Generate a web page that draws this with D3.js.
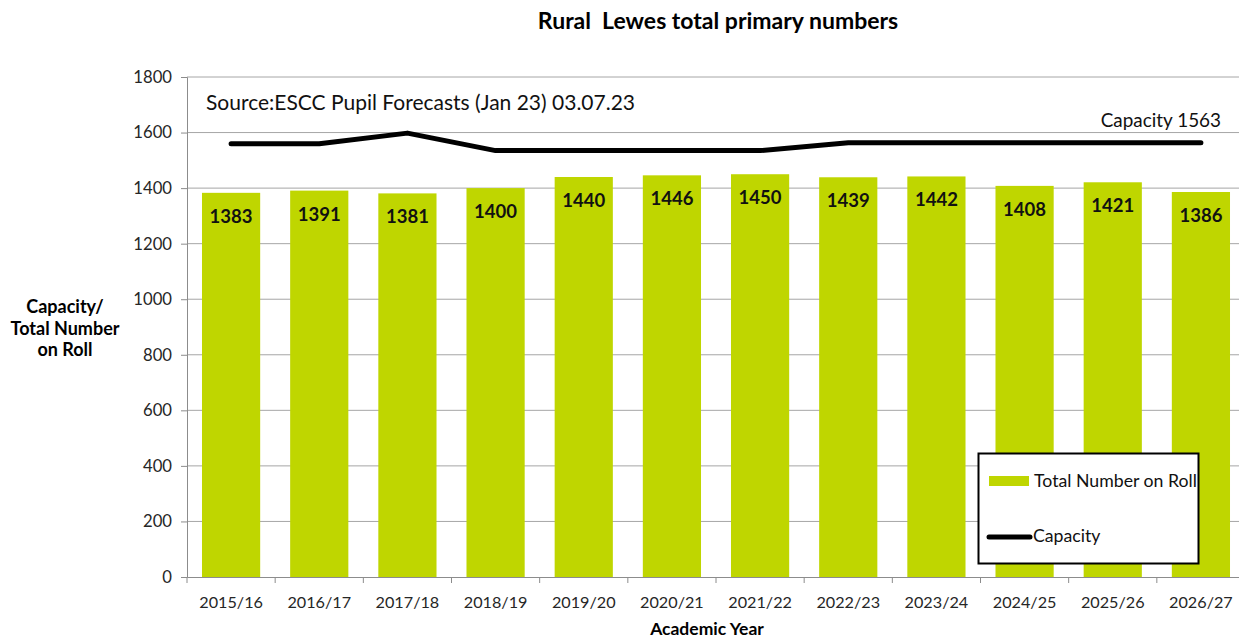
<!DOCTYPE html>
<html><head><meta charset="utf-8">
<script src="https://cdn.jsdelivr.net/npm/d3@7"></script>
<style>body{margin:0;background:#fff;} svg{display:block;font-family:Lato, "Open Sans", sans-serif;}</style>
</head><body>
<svg id="chart" width="1239" height="639"></svg>
<script>
const years = ["2015/16","2016/17","2017/18","2018/19","2019/20","2020/21","2021/22","2022/23","2023/24","2024/25","2025/26","2026/27"];
const roll = [1383,1391,1381,1400,1440,1446,1450,1439,1442,1408,1421,1386];
const capacity = [1560,1560,1598,1535,1535,1535,1535,1563,1563,1563,1563,1563];
const yTicks = [0,200,400,600,800,1000,1200,1400,1600,1800];

(function(){
const svg = d3.select("#chart");
const pL = 187, pR = 1245, pT = 77, pB = 577;
const x = d3.scaleBand().domain(years).range([pL, pR]).paddingInner(0.34).paddingOuter(0.17);
const y = d3.scaleLinear().domain([0,1800]).range([pB, pT]);

// gridlines
svg.append("g").selectAll("line").data(yTicks.filter(d=>d>0)).join("line")
  .attr("x1", pL).attr("x2", pR).attr("y1", d=>y(d)).attr("y2", d=>y(d))
  .attr("stroke", "#a6a6a6").attr("stroke-width", 1);

// bars
svg.append("g").selectAll("rect").data(years).join("rect")
  .attr("x", d=>x(d)).attr("width", x.bandwidth())
  .attr("y", (d,i)=>y(roll[i])).attr("height", (d,i)=>pB - y(roll[i]))
  .attr("fill", "#bfd600");

// y axis
const yAxis = svg.append("g").attr("transform", `translate(${pL},0)`)
  .call(d3.axisLeft(y).tickValues(yTicks).tickSize(6).tickPadding(9).tickFormat(d3.format("d")));
yAxis.select(".domain").attr("stroke", "#8c8c8c");
yAxis.selectAll(".tick line").attr("stroke", "#8c8c8c");
yAxis.selectAll(".tick text").attr("font-size", 16.7).attr("fill", "#262626").attr("font-family", "Lato");

// x axis
const step = x.step();
const xAxis = svg.append("g").attr("transform", `translate(0,${pB})`)
  .call(d3.axisBottom(x).tickSize(0).tickPadding(19));
xAxis.select(".domain").attr("stroke", "#8c8c8c");
xAxis.selectAll(".tick text").attr("font-size", 16.2).attr("fill", "#262626").attr("font-family", "Lato");
svg.append("g").selectAll("line").data(d3.range(years.length+1)).join("line")
  .attr("x1", i=>pL + i*step).attr("x2", i=>pL + i*step)
  .attr("y1", pB).attr("y2", pB+6).attr("stroke", "#8c8c8c");

// capacity line
const line = d3.line().x((d,i)=>x(years[i]) + x.bandwidth()/2).y(d=>y(d));
svg.append("path").datum(capacity).attr("d", line)
  .attr("fill", "none").attr("stroke", "#000").attr("stroke-width", 5)
  .attr("stroke-linecap", "round").attr("stroke-linejoin", "round");

// data labels
svg.append("g").selectAll("text").data(years).join("text")
  .attr("x", d=>x(d) + x.bandwidth()/2).attr("y", (d,i)=>y(roll[i]) + 30)
  .attr("text-anchor", "middle").attr("font-size", 18.5).attr("font-weight", "bold").attr("fill", "#111")
  .text((d,i)=>roll[i]);

// title
svg.append("text").attr("x", 718).attr("y", 29).attr("text-anchor", "middle")
  .attr("font-size", 23).attr("font-weight", "bold").attr("fill", "#000")
  .style("white-space", "pre")
  .text("Rural  Lewes total primary numbers");

// source
svg.append("text").attr("x", 206).attr("y", 110).attr("font-size", 21).attr("fill", "#111")
  .text("Source:ESCC Pupil Forecasts (Jan 23) 03.07.23");

// capacity annotation
svg.append("text").attr("x", 1221).attr("y", 127).attr("text-anchor", "end").attr("font-size", 18.9).attr("fill", "#111")
  .text("Capacity " + capacity[capacity.length-1]);

// y-axis title
const yt = svg.append("text").attr("text-anchor", "middle").attr("font-size", 18).attr("font-weight", "bold").attr("fill", "#000");
["Capacity/","Total Number","on Roll"].forEach((t,i)=>{
  yt.append("tspan").attr("x", 65).attr("y", 313 + i*21.5).text(t);
});

// x-axis title
svg.append("text").attr("x", 707).attr("y", 635).attr("text-anchor", "middle")
  .attr("font-size", 17.5).attr("font-weight", "bold").attr("fill", "#000").text("Academic Year");

// legend
const lg = svg.append("g");
lg.append("rect").attr("x", 978.5).attr("y", 453.5).attr("width", 220).attr("height", 110)
  .attr("fill", "#fff").attr("stroke", "#000").attr("stroke-width", 2);
lg.append("rect").attr("x", 989).attr("y", 476).attr("width", 40).attr("height", 10).attr("fill", "#bfd600");
lg.append("text").attr("x", 1034).attr("y", 487).attr("font-size", 17.7).attr("fill", "#111").text("Total Number on Roll");
lg.append("line").attr("x1", 989).attr("x2", 1030).attr("y1", 537).attr("y2", 537)
  .attr("stroke", "#000").attr("stroke-width", 5).attr("stroke-linecap", "round");
lg.append("text").attr("x", 1033).attr("y", 542).attr("font-size", 17.7).attr("fill", "#111").text("Capacity");
})();
</script>
</body></html>
